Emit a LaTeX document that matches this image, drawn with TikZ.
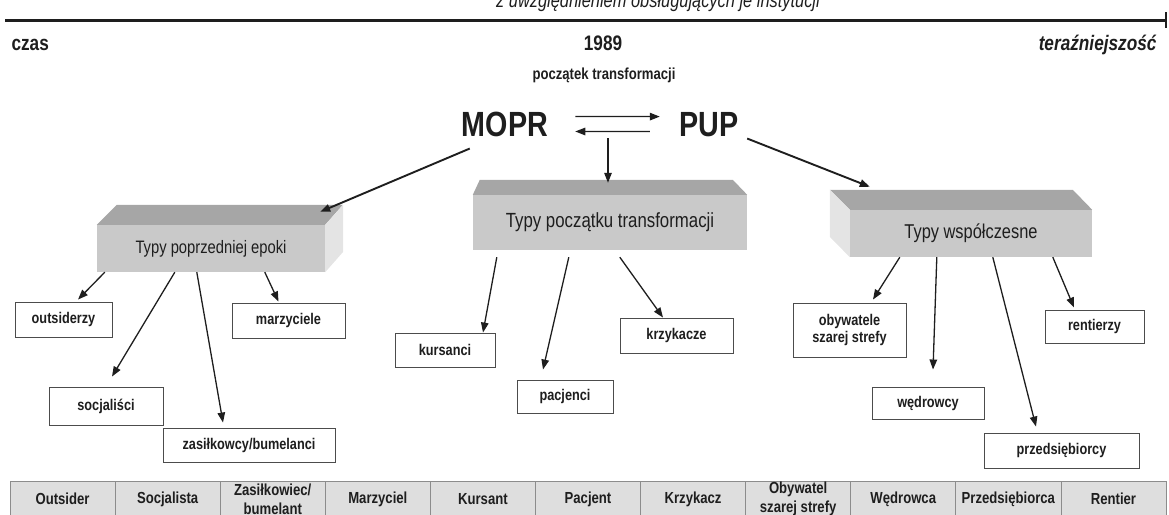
\documentclass[tikz,border=0pt]{standalone}
\usepackage{fontspec}
\setmainfont{Liberation Sans}[FakeStretch=0.82]
\usetikzlibrary{arrows.meta,calc}
\definecolor{topgray}{HTML}{A6A6A6}
\definecolor{frontgray}{HTML}{C9C9C9}
\definecolor{sidegray}{HTML}{E4E4E4}
\definecolor{cellgray}{HTML}{DEDEDE}
\definecolor{ink}{HTML}{1E1E1E}
\tikzset{
	arr/.style={draw=ink, line width=1.3pt, -{Triangle[length=10pt,width=7.5pt]}},
	arrbig/.style={arr, line width=1.9pt},
	leaf/.style={draw=black!70, line width=0.9pt, fill=white, inner sep=0pt, align=center, text=ink, font=\fontsize{15.5}{17.5}\selectfont\bfseries},
	typbox/.style={fill=frontgray, inner sep=0pt, text=ink},
	cell/.style={draw=black!45, line width=0.8pt, fill=cellgray, minimum width=105.09pt, minimum height=36pt, inner sep=0pt, align=center, text=ink, font=\fontsize{16}{19}\selectfont\bfseries},
}
\begin{document}
\begin{tikzpicture}[x=1pt,y=-1pt]
		%%%%% START %%%%%
		\useasboundingbox (0,0) rectangle (1169,514);
		\clip (0,0) rectangle (1169,514);
		
		% os czasu
		\node[anchor=base, text=ink, font=\fontsize{20}{22}\selectfont\itshape] (tytul) at (658,8) {z uwzględnieniem obsługujących je instytucji};
		\draw[ink, line width=3pt] (5,20) -- (1166,20);
		\draw[ink, line width=2pt] (1166,12) -- (1166,28);
		\node[anchor=base west, text=ink, font=\fontsize{21}{23}\selectfont\bfseries] (czas) at (8,50) {czas};
		\node[anchor=base, text=ink, font=\fontsize{21}{23}\selectfont\bfseries] (rok) at (603,50) {1989};
		\node[anchor=base east, text=ink, font=\fontsize{21}{23}\selectfont\bfseries\itshape] (teraz) at (1160,50) {teraźniejszość};
		\node[anchor=base, text=ink, font=\fontsize{16}{18}\selectfont\bfseries] (poczatek) at (604,79) {początek transformacji};
		
		% instytucje
		\node[anchor=base, inner sep=0pt, text=ink, font=\fontsize{35}{37}\selectfont\bfseries] (mopr) at (505,136) {MOPR};
		\node[anchor=base, inner sep=0pt, text=ink, font=\fontsize{35}{37}\selectfont\bfseries] (pup) at (709,136) {PUP};
		\draw[arr, shorten <=27pt, shorten >=19.5pt] ([yshift=7.5pt]mopr.east) -- ([yshift=7.5pt]pup.west);
		\draw[arr, shorten <=29.5pt, shorten >=27pt] ([yshift=-7.5pt]pup.west) -- ([yshift=-7.5pt]mopr.east);
		
		% bryly
		\node[typbox, minimum width=228pt, minimum height=47pt, font=\fontsize{18}{20}\selectfont] (poprz) at (211,248.5) {Typy poprzedniej epoki};
		\fill[topgray] (poprz.north west) -- ++(20,-20) -- ++(226,0) -- (poprz.north east) -- cycle;
		\fill[sidegray] (poprz.north east) -- ++(18,-20) -- ++(0,47) -- (poprz.south east) -- cycle;
		
		\node[typbox, minimum width=274pt, minimum height=55pt, font=\fontsize{20.5}{22}\selectfont] (srod) at (610,222.5) {Typy początku transformacji};
		\fill[topgray] (srod.north west) -- ++(7,-15) -- ++(253,0) -- (srod.north east) -- cycle;
		
		\node[typbox, minimum width=242pt, minimum height=47pt, font=\fontsize{20}{22}\selectfont] (wspol) at (971,233.5) {Typy współczesne};
		\fill[topgray] (wspol.north west) -- ++(-20,-20) -- ++(243,0) -- (wspol.north east) -- cycle;
		\fill[sidegray] (wspol.north west) -- ++(-20,-20) -- ++(0,47) -- (wspol.south west) -- cycle;
		
		\coordinate (para) at (608,138);
		\draw[arr] (para) -- ([xshift=-2pt,yshift=12pt]srod.north);
		\draw[arrbig] ([xshift=8pt,yshift=-12pt]mopr.south west) -- ([xshift=-5pt,yshift=13pt]poprz.north east);
		\draw[arrbig] ([xshift=8.5pt,yshift=-2pt]pup.south east) -- ([xshift=20pt,yshift=23pt]wspol.north west);
		
		% typy poprzedniej epoki
		\node[leaf, minimum width=97pt, minimum height=35pt] (outs) at (63.5,319.5) {outsiderzy};
		\node[leaf, minimum width=113pt, minimum height=35pt] (marz) at (288.5,320.5) {marzyciele};
		\node[leaf, minimum width=114pt, minimum height=38pt] (socj) at (106,406) {socjaliści};
		\node[leaf, minimum width=172pt, minimum height=34pt] (zas) at (249,445) {zasiłkowcy/bumelanci};
		\draw[arr] ([xshift=8pt]poprz.south west) -- ([xshift=14.5pt,yshift=2pt]outs.north);
		\draw[arr] ([xshift=78pt]poprz.south west) -- ([xshift=6pt,yshift=10pt]socj.north);
		\draw[arr] ([xshift=100pt]poprz.south west) -- ([xshift=-26pt,yshift=5pt]zas.north);
		\draw[arr] ([xshift=168pt]poprz.south west) -- ([xshift=-10pt,yshift=1pt]marz.north);
		
		% typy poczatku transformacji
		\node[leaf, minimum width=100pt, minimum height=34pt] (kurs) at (445,350) {kursanci};
		\node[leaf, minimum width=96pt, minimum height=33pt] (pacj) at (565,396.5) {pacjenci};
		\node[leaf, minimum width=113pt, minimum height=35pt] (krzy) at (676.5,335.5) {krzykacze};
		\draw[arr] ([xshift=24pt,yshift=-7pt]srod.south west) -- ([xshift=38pt]kurs.north);
		\draw[arr] ([xshift=96pt,yshift=-7pt]srod.south west) -- ([xshift=-22pt,yshift=10pt]pacj.north);
		\draw[arr] ([xshift=147pt,yshift=-7pt]srod.south west) -- ([xshift=-13.5pt]krzy.north);
		
		% typy wspolczesne
		\node[leaf, minimum width=113pt, minimum height=54pt] (obyw) at (849.5,330) {obywatele\\szarej strefy};
		\node[leaf, minimum width=112pt, minimum height=32pt] (wedr) at (928,403) {wędrowcy};
		\node[leaf, minimum width=155pt, minimum height=35pt] (przed) at (1061.5,450.5) {przedsiębiorcy};
		\node[leaf, minimum width=99pt, minimum height=33pt] (rent) at (1094.5,326.5) {rentierzy};
		\draw[arr] ([xshift=50pt]wspol.south west) -- ([xshift=23.5pt,yshift=3pt]obyw.north);
		\draw[arr] ([xshift=87pt]wspol.south west) -- ([xshift=5pt,yshift=17pt]wedr.north);
		\draw[arr] ([xshift=143pt]wspol.south west) -- ([xshift=-25.5pt,yshift=6pt]przed.north);
		\draw[arr] ([xshift=203pt]wspol.south west) -- ([xshift=-20.5pt,yshift=2pt]rent.north);
		
		% tabela
		\foreach \nazwa [count=\i from 0] in {Outsider, Socjalista, Zasiłkowiec/\\bumelant, Marzyciel, Kursant, Pacjent, Krzykacz, Obywatel\\szarej strefy, Wędrowca, Przedsiębiorca, Rentier}
			\node[cell] (kom\i) at (62.545+105.09*\i,499) {\nazwa};
		%%%%% END %%%%%
\end{tikzpicture}
\end{document}
